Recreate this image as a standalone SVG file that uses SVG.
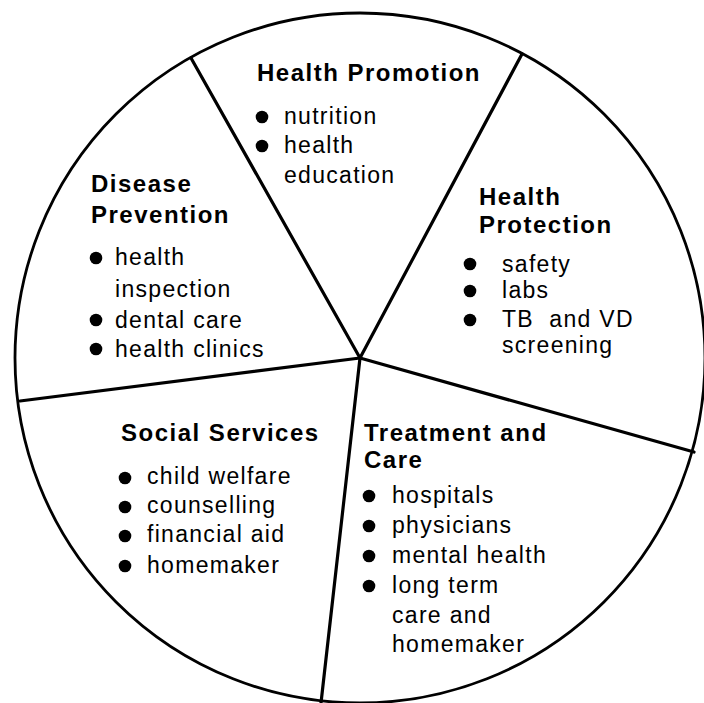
<svg xmlns="http://www.w3.org/2000/svg" width="704" height="703" viewBox="0 0 704 703">
<style>
.h{font-family:"Liberation Sans",Arial,sans-serif;font-weight:bold;font-size:24px;letter-spacing:1.5px;fill:#000}
.t{font-family:"Liberation Sans",Arial,sans-serif;font-size:23px;letter-spacing:1.3px;fill:#000}
.b{fill:#000}
.sp{stroke:#000;stroke-width:3.2;stroke-linecap:round;fill:none}
</style>
<rect width="704" height="703" fill="#fff"/>
<circle cx="360" cy="358" r="345" fill="none" stroke="#000" stroke-width="2.8"/>
<g id="connectors" class="sp">
<line x1="360" y1="358" x2="191" y2="58"/>
<line x1="360" y1="358" x2="522" y2="54"/>
<line x1="360" y1="358" x2="694" y2="452"/>
<line x1="360" y1="358" x2="321" y2="703"/>
<line x1="360" y1="358" x2="20" y2="401"/>
</g>
<g id="health-promotion">
<text class="h" x="257" y="81">Health Promotion</text>
<circle class="b" cx="262" cy="117" r="6.3"/>
<text class="t" x="284" y="124">nutrition</text>
<circle class="b" cx="262" cy="146" r="6.3"/>
<text class="t" x="284" y="153">health</text>
<text class="t" x="284" y="183">education</text>
</g>
<g id="disease-prevention">
<text class="h" x="91" y="192">Disease</text>
<text class="h" x="91" y="223">Prevention</text>
<circle class="b" cx="96" cy="258" r="6.3"/>
<text class="t" x="115" y="265">health</text>
<text class="t" x="115" y="297">inspection</text>
<circle class="b" cx="96" cy="320" r="6.3"/>
<text class="t" x="115" y="328">dental care</text>
<circle class="b" cx="96" cy="349" r="6.3"/>
<text class="t" x="115" y="357">health clinics</text>
</g>
<g id="health-protection">
<text class="h" x="479" y="205">Health</text>
<text class="h" x="479" y="233">Protection</text>
<circle class="b" cx="470" cy="264" r="6.3"/>
<text class="t" x="502" y="272">safety</text>
<circle class="b" cx="470" cy="291" r="6.3"/>
<text class="t" x="502" y="298">labs</text>
<circle class="b" cx="470" cy="320" r="6.3"/>
<text class="t" x="502" y="327" style="white-space:pre">TB  and VD</text>
<text class="t" x="502" y="353">screening</text>
</g>
<g id="social-services">
<text class="h" x="121" y="441">Social Services</text>
<circle class="b" cx="125" cy="478" r="6.3"/>
<text class="t" x="147" y="484">child welfare</text>
<circle class="b" cx="125" cy="507" r="6.3"/>
<text class="t" x="147" y="513">counselling</text>
<circle class="b" cx="125" cy="536" r="6.3"/>
<text class="t" x="147" y="542">financial aid</text>
<circle class="b" cx="125" cy="566" r="6.3"/>
<text class="t" x="147" y="573">homemaker</text>
</g>
<g id="treatment-and-care">
<text class="h" x="364" y="441">Treatment and</text>
<text class="h" x="364" y="468">Care</text>
<circle class="b" cx="369" cy="496" r="6.3"/>
<text class="t" x="392" y="503">hospitals</text>
<circle class="b" cx="369" cy="526" r="6.3"/>
<text class="t" x="392" y="533">physicians</text>
<circle class="b" cx="369" cy="556" r="6.3"/>
<text class="t" x="392" y="563">mental health</text>
<circle class="b" cx="369" cy="586" r="6.3"/>
<text class="t" x="392" y="593">long term</text>
<text class="t" x="392" y="623">care and</text>
<text class="t" x="392" y="652">homemaker</text>
</g>
</svg>
